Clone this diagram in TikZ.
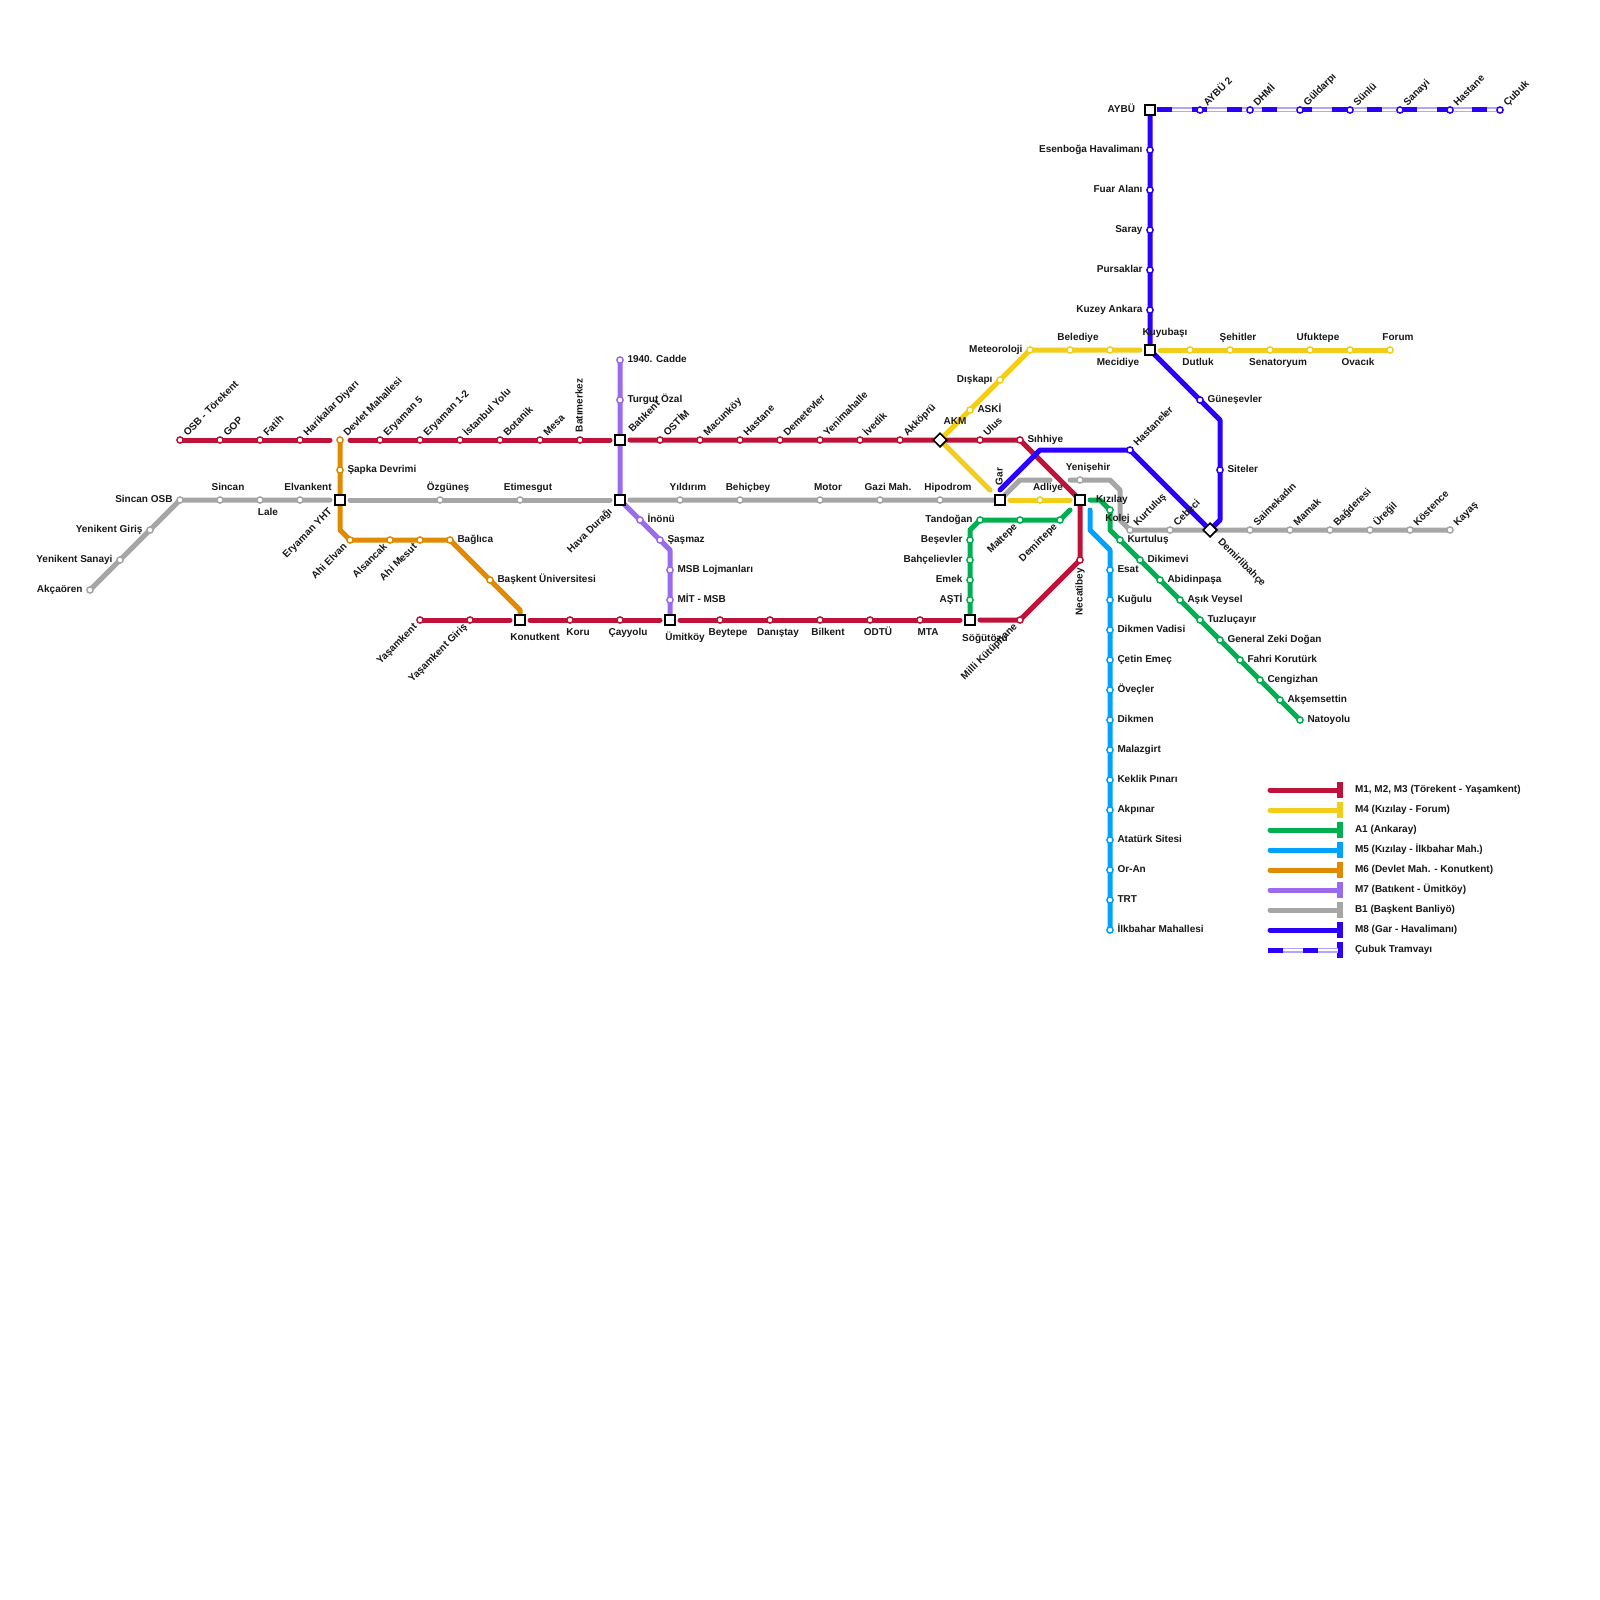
\documentclass[tikz,border=0pt]{standalone}
\usepackage{fontspec}
\setmainfont{Liberation Sans}[BoldFont={Liberation Sans Bold}]
\pgfdeclarelayer{bg}
\pgfsetlayers{bg,main}
\definecolor{cRed}{HTML}{BE1238}
\definecolor{cYel}{HTML}{F2CE1A}
\definecolor{cGrn}{HTML}{00B050}
\definecolor{cBlu}{HTML}{00A2FF}
\definecolor{cOrg}{HTML}{E08A00}
\definecolor{cPur}{HTML}{9B6BEE}
\definecolor{cGry}{HTML}{A6A6A6}
\definecolor{cInd}{HTML}{2C00FF}
\definecolor{cLav}{HTML}{B4A4FF}
\tikzset{
 lbl/.style={inner sep=0pt,outer sep=0pt,font=\fontsize{10}{11}\selectfont\bfseries,text=black!90},
 R/.style={lbl,anchor=base west,xshift=7.5pt,yshift=-2.5pt},
 L/.style={lbl,anchor=base east,xshift=-7.5pt,yshift=-2.5pt},
 A/.style={lbl,anchor=base,xshift=8pt,yshift=9.5pt},
 B/.style={lbl,anchor=base,xshift=8pt,yshift=-15.5pt},
 NE/.style={lbl,anchor=base west,xshift=7.5pt,yshift=3.5pt,rotate=45},
 SW/.style={lbl,anchor=base east,xshift=-2.5pt,yshift=-7.5pt,rotate=45},
 stnode/.style={circle,draw=#1,fill=white,line width=1.5pt,minimum size=6.2pt,inner sep=0pt,outer sep=0pt},
 sqnode/.style={rectangle,draw=black,fill=white,line width=1.8pt,minimum size=10pt,inner sep=0pt,outer sep=0pt},
 dinode/.style={rectangle,draw=black,fill=white,line width=1.7pt,minimum size=9.6pt,inner sep=0pt,outer sep=0pt,rotate=45},
 ln/.style={draw=#1,line width=5pt,line cap=round,line join=round},
 bar/.style={rectangle,fill=#1,inner sep=0pt,outer sep=0pt,minimum width=6pt,minimum height=16pt},
 tramdash/.style={draw=cInd,line width=5pt,dash pattern=on 15pt off 20pt},
 tramback/.style={draw=cLav,line width=5pt},
 tramfront/.style={draw=white,line width=2.4pt},
 leg/.style={lbl,anchor=base west}
}
\newcommand\stn[6]{\node[stnode=#1] (#2) at (#3,#4) {}; \node[#5] (#2-l) at (#3,#4) {#6};}
\newcommand\sqn[5]{\node[sqnode] (#1) at (#2,#3) {}; \node[#4] (#1-l) at (#2,#3) {#5};}
\newcommand\din[5]{\node[dinode] (#1) at (#2,#3) {}; \node[#4] (#1-l) at (#2,#3) {#5};}
\newcommand\route[3]{\draw[ln=#1] (#2.center) foreach \n in {#3} {-- (\n.center)};}
\begin{document}
\begin{tikzpicture}[x=1pt,y=-1pt]
\useasboundingbox (0,0) rectangle (1600,1600);
\begin{pgfonlayer}{bg}
\fill[white] (0,0) rectangle (1600,1600);
\end{pgfonlayer}
% interchanges
\sqn{bat}{620}{440}{lbl,anchor=base west,xshift=12.5pt,yshift=7.5pt,rotate=45}{Batıkent}
\sqn{hav}{620}{500}{lbl,anchor=base east,xshift=-7.5pt,yshift=-12.5pt,rotate=45}{Hava Durağı}
\sqn{ery}{340}{500}{lbl,anchor=base east,xshift=-7.5pt,yshift=-12.5pt,rotate=45}{Eryaman YHT}
\sqn{kon}{520}{620}{B,xshift=7pt,yshift=-5pt}{Konutkent}
\sqn{umi}{670}{620}{B,xshift=7pt,yshift=-5pt}{Ümitköy}
\sqn{sog}{970}{620}{B,xshift=7pt,yshift=-5.5pt}{Söğütözü}
\sqn{gar}{1000}{500}{lbl,anchor=base west,xshift=2.5pt,yshift=15pt,rotate=90}{Gar}
\sqn{kiz}{1080}{500}{R,xshift=8.5pt}{Kızılay}
\sqn{kuy}{1150}{350}{A,xshift=7pt,yshift=5pt}{Kuyubaşı}
\sqn{ayb}{1150}{110}{L,xshift=-7.5pt}{AYBÜ}
\din{akm}{940}{440}{A,xshift=7pt,yshift=6pt}{AKM}
\din{dem}{1210}{530}{lbl,anchor=base west,xshift=7.5pt,yshift=-12.5pt,rotate=-45}{Demirlibahçe}
% red
\stn{cRed}{osb}{180}{440}{NE}{OSB - Törekent}
\stn{cRed}{gop}{220}{440}{NE}{GOP}
\stn{cRed}{fat}{260}{440}{NE}{Fatih}
\stn{cRed}{har}{300}{440}{NE}{Harikalar Diyarı}
\stn{cRed}{er5}{380}{440}{NE}{Eryaman 5}
\stn{cRed}{er1}{420}{440}{NE}{Eryaman 1-2}
\stn{cRed}{ist}{460}{440}{NE}{İstanbul Yolu}
\stn{cRed}{bot}{500}{440}{NE}{Botanik}
\stn{cRed}{mes}{540}{440}{NE}{Mesa}
\stn{cRed}{bme}{580}{440}{lbl,anchor=base west,xshift=2.5pt,yshift=8pt,rotate=90}{Batımerkez}
\stn{cRed}{ost}{660}{440}{NE}{OSTİM}
\stn{cRed}{mac}{700}{440}{NE}{Macunköy}
\stn{cRed}{hsn}{740}{440}{NE}{Hastane}
\stn{cRed}{dmt}{780}{440}{NE}{Demetevler}
\stn{cRed}{yen}{820}{440}{NE}{Yenimahalle}
\stn{cRed}{ive}{860}{440}{NE}{İvedik}
\stn{cRed}{akk}{900}{440}{NE}{Akköprü}
\stn{cRed}{ulu}{980}{440}{NE}{Ulus}
\stn{cRed}{sih}{1020}{440}{R}{Sıhhiye}
\stn{cRed}{nec}{1080}{560}{lbl,anchor=base east,xshift=2.5pt,yshift=-8pt,rotate=90}{Necatibey}
\stn{cRed}{mil}{1020}{620}{SW}{Milli Kütüphane}
\stn{cRed}{mta}{920}{620}{B}{MTA}
\stn{cRed}{odt}{870}{620}{B}{ODTÜ}
\stn{cRed}{bil}{820}{620}{B}{Bilkent}
\stn{cRed}{dan}{770}{620}{B}{Danıştay}
\stn{cRed}{bey}{720}{620}{B}{Beytepe}
\stn{cRed}{cay}{620}{620}{B}{Çayyolu}
\stn{cRed}{kor}{570}{620}{B}{Koru}
\stn{cRed}{yag}{470}{620}{SW}{Yaşamkent Giriş}
\stn{cRed}{yas}{420}{620}{SW}{Yaşamkent}
% yellow
\stn{cYel}{met}{1030}{350}{L}{Meteoroloji}
\stn{cYel}{bel}{1070}{350}{A}{Belediye}
\stn{cYel}{mec}{1110}{350}{B}{Mecidiye}
\stn{cYel}{dis}{1000}{380}{L}{Dışkapı}
\stn{cYel}{ask}{970}{410}{R}{ASKİ}
\stn{cYel}{adl}{1040}{500}{A}{Adliye}
\stn{cYel}{dut}{1190}{350}{B}{Dutluk}
\stn{cYel}{seh}{1230}{350}{A}{Şehitler}
\stn{cYel}{sen}{1270}{350}{B}{Senatoryum}
\stn{cYel}{ufu}{1310}{350}{A}{Ufuktepe}
\stn{cYel}{ova}{1350}{350}{B}{Ovacık}
\stn{cYel}{for}{1390}{350}{A}{Forum}
% green
\stn{cGrn}{kol}{1110}{510}{B,xshift=-0.5pt,yshift=4.5pt}{Kolej}
\stn{cGrn}{kur}{1120}{540}{R}{Kurtuluş}
\stn{cGrn}{dik}{1140}{560}{R}{Dikimevi}
\stn{cGrn}{abi}{1160}{580}{R}{Abidinpaşa}
\stn{cGrn}{asi}{1180}{600}{R}{Aşık Veysel}
\stn{cGrn}{tuz}{1200}{620}{R}{Tuzluçayır}
\stn{cGrn}{gen}{1220}{640}{R}{General Zeki Doğan}
\stn{cGrn}{fah}{1240}{660}{R}{Fahri Korutürk}
\stn{cGrn}{cen}{1260}{680}{R}{Cengizhan}
\stn{cGrn}{aks}{1280}{700}{R}{Akşemsettin}
\stn{cGrn}{nat}{1300}{720}{R}{Natoyolu}
\stn{cGrn}{dtp}{1060}{520}{SW}{Demirtepe}
\stn{cGrn}{mal}{1020}{520}{SW}{Maltepe}
\stn{cGrn}{tan}{980}{520}{L}{Tandoğan}
\stn{cGrn}{bes}{970}{540}{L}{Beşevler}
\stn{cGrn}{bah}{970}{560}{L}{Bahçelievler}
\stn{cGrn}{eme}{970}{580}{L}{Emek}
\stn{cGrn}{ast}{970}{600}{L}{AŞTİ}
% M5
\stn{cBlu}{esa}{1110}{570}{R}{Esat}
\stn{cBlu}{kug}{1110}{600}{R}{Kuğulu}
\stn{cBlu}{dkv}{1110}{630}{R}{Dikmen Vadisi}
\stn{cBlu}{cet}{1110}{660}{R}{Çetin Emeç}
\stn{cBlu}{ove}{1110}{690}{R}{Öveçler}
\stn{cBlu}{dkm}{1110}{720}{R}{Dikmen}
\stn{cBlu}{mlz}{1110}{750}{R}{Malazgirt}
\stn{cBlu}{kek}{1110}{780}{R}{Keklik Pınarı}
\stn{cBlu}{akp}{1110}{810}{R}{Akpınar}
\stn{cBlu}{ata}{1110}{840}{R}{Atatürk Sitesi}
\stn{cBlu}{ora}{1110}{870}{R}{Or-An}
\stn{cBlu}{trt}{1110}{900}{R}{TRT}
\stn{cBlu}{ilk}{1110}{930}{R}{İlkbahar Mahallesi}
% M6
\stn{cOrg}{dev}{340}{440}{NE}{Devlet Mahallesi}
\stn{cOrg}{sap}{340}{470}{R}{Şapka Devrimi}
\stn{cOrg}{ahe}{350}{540}{SW}{Ahi Elvan}
\stn{cOrg}{als}{390}{540}{SW}{Alsancak}
\stn{cOrg}{ahm}{420}{540}{SW}{Ahi Mesut}
\stn{cOrg}{bag}{450}{540}{R}{Bağlıca}
\stn{cOrg}{bas}{490}{580}{R}{Başkent Üniversitesi}
% M7
\stn{cPur}{c19}{620}{360}{R}{1940. Cadde}
\stn{cPur}{tur}{620}{400}{R}{Turgut Özal}
\stn{cPur}{ino}{640}{520}{R}{İnönü}
\stn{cPur}{sas}{660}{540}{R}{Şaşmaz}
\stn{cPur}{msb}{670}{570}{R}{MSB Lojmanları}
\stn{cPur}{mit}{670}{600}{R}{MİT - MSB}
% B1
\stn{cGry}{akc}{90}{590}{L}{Akçaören}
\stn{cGry}{yks}{120}{560}{L}{Yenikent Sanayi}
\stn{cGry}{ykg}{150}{530}{L}{Yenikent Giriş}
\stn{cGry}{sio}{180}{500}{L}{Sincan OSB}
\stn{cGry}{sin}{220}{500}{A}{Sincan}
\stn{cGry}{lal}{260}{500}{B}{Lale}
\stn{cGry}{elv}{300}{500}{A}{Elvankent}
\stn{cGry}{ozg}{440}{500}{A}{Özgüneş}
\stn{cGry}{eti}{520}{500}{A}{Etimesgut}
\stn{cGry}{yil}{680}{500}{A}{Yıldırım}
\stn{cGry}{beh}{740}{500}{A}{Behiçbey}
\stn{cGry}{mot}{820}{500}{A}{Motor}
\stn{cGry}{gaz}{880}{500}{A}{Gazi Mah.}
\stn{cGry}{hip}{940}{500}{A}{Hipodrom}
\stn{cGry}{yns}{1080}{480}{A}{Yenişehir}
\stn{cGry}{kgr}{1130}{530}{NE}{Kurtuluş}
\stn{cGry}{ceb}{1170}{530}{NE}{Cebeci}
\stn{cGry}{sai}{1250}{530}{NE}{Saimekadın}
\stn{cGry}{mam}{1290}{530}{NE}{Mamak}
\stn{cGry}{bgd}{1330}{530}{NE}{Bağderesi}
\stn{cGry}{ure}{1370}{530}{NE}{Üreğil}
\stn{cGry}{kos}{1410}{530}{NE}{Köstence}
\stn{cGry}{kay}{1450}{530}{NE}{Kayaş}
% M8
\stn{cInd}{gun}{1200}{400}{R}{Güneşevler}
\stn{cInd}{sit}{1220}{470}{R}{Siteler}
\stn{cInd}{hst}{1130}{450}{NE}{Hastaneler}
\stn{cInd}{kuz}{1150}{310}{L}{Kuzey Ankara}
\stn{cInd}{pur}{1150}{270}{L}{Pursaklar}
\stn{cInd}{sar}{1150}{230}{L}{Saray}
\stn{cInd}{fua}{1150}{190}{L}{Fuar Alanı}
\stn{cInd}{ese}{1150}{150}{L}{Esenboğa Havalimanı}
% tram
\stn{cInd}{ay2}{1200}{110}{NE}{AYBÜ 2}
\stn{cInd}{dhm}{1250}{110}{NE}{DHMİ}
\stn{cInd}{gul}{1300}{110}{NE}{Güldarpı}
\stn{cInd}{sun}{1350}{110}{NE}{Sünlü}
\stn{cInd}{san}{1400}{110}{NE}{Sanayi}
\stn{cInd}{hsc}{1450}{110}{NE}{Hastane}
\stn{cInd}{cub}{1500}{110}{NE}{Çubuk}
% free ends and bends
\foreach \n/\x/\y in {r1/330/440,r2/350/440,r3/610/440,r4/630/440,r5/510/620,r6/530/620,r7/660/620,r8/680/620,r9/960/620,r10/980/620,
 y1/1140/350,y2/1160/350,y3/990/490,y4/1010/500,y5/1070/500,
 g1/1090/500,g2/1100/500,g3/1110/530,g4/1070/510,g5/970/530,
 b1/1090/510,b2/1090/530,b3/1110/550,
 o1/340/530,o2/520/610,
 p1/670/550,
 a1/330/500,a2/350/500,a3/610/500,a4/630/500,a6/1020/480,a7/1050/480,a8/1070/480,a9/1110/480,a10/1120/490,a11/1120/520,
 i1/1000/490,i2/1040/450,i3/1220/520,i4/1220/420,
 t1/1157/110}
 {\coordinate (\n) at (\x,\y);}
\begin{pgfonlayer}{bg}
\route{cRed}{osb}{gop,fat,har,r1}
\route{cRed}{r2}{er5,er1,ist,bot,mes,bme,r3}
\route{cRed}{r4}{ost,mac,hsn,dmt,yen,ive,akk,akm,ulu,sih,kiz,nec,mil,r10}
\route{cRed}{yas}{yag,r5}
\route{cRed}{r6}{kor,cay,r7}
\route{cRed}{r8}{bey,dan,bil,odt,mta,r9}
\route{cYel}{y1}{mec,bel,met,dis,ask,akm,y3}
\route{cYel}{y2}{dut,seh,sen,ufu,ova,for}
\route{cYel}{y4}{adl,y5}
\route{cGrn}{g1}{g2,kol,g3,kur,dik,abi,asi,tuz,gen,fah,cen,aks,nat}
\route{cGrn}{g4}{dtp,mal,tan,g5,bes,bah,eme,ast,sog}
\route{cBlu}{b1}{b2,b3,esa,kug,dkv,cet,ove,dkm,mlz,kek,akp,ata,ora,trt,ilk}
\route{cOrg}{dev}{sap,ery,o1,ahe,als,ahm,bag,bas,o2,kon}
\route{cPur}{c19}{tur,bat,hav,ino,sas,p1,msb,mit,umi}
\route{cGry}{akc}{yks,ykg,sio,sin,lal,elv,a1}
\route{cGry}{a2}{ozg,eti,a3}
\route{cGry}{a4}{yil,beh,mot,gaz,hip,gar,a6,a7}
\route{cGry}{a8}{yns,a9,a10,a11,kgr,ceb,dem,sai,mam,bgd,ure,kos,kay}
\route{cInd}{i1}{i2,hst,dem,i3,sit,i4,gun,kuy,kuz,pur,sar,fua,ese,ayb}
\draw[tramback] (t1.center) -- (ay2.center) -- (dhm.center) -- (gul.center) -- (sun.center) -- (san.center) -- (hsc.center) -- (cub.center);
\draw[tramfront] (t1.center) -- (cub.center);
\draw[tramdash] (t1.center) -- (cub.center);
\end{pgfonlayer}
% legend
\foreach \n/\c/\y/\t in {l1/cRed/790/{M1, M2, M3 (Törekent - Yaşamkent)},l2/cYel/810/{M4 (Kızılay - Forum)},l3/cGrn/830/{A1 (Ankaray)},l4/cBlu/850/{M5 (Kızılay - İlkbahar Mah.)},l5/cOrg/870/{M6 (Devlet Mah. - Konutkent)},l6/cPur/890/{M7 (Batıkent - Ümitköy)},l7/cGry/910/{B1 (Başkent Banliyö)},l8/cInd/930/{M8 (Gar - Havalimanı)}}
{
 \coordinate (\n-s) at (1270,\y);
 \node[bar=\c] (\n-b) at (1340,\y) {};
 \draw[ln=\c] (\n-s) -- (\n-b.center);
 \node[leg] (\n-t) at (1355,\y+2.5) {\t};
}
\coordinate (l9-s) at (1267.5,950);
\node[bar=cInd] (l9-b) at (1340,950) {};
\draw[tramback] (l9-s) -- (l9-b.center);
\draw[tramfront] (l9-s) -- (l9-b.center);
\draw[tramdash] (l9-s) -- (l9-b.center);
\node[leg] (l9-t) at (1355,952.5) {Çubuk Tramvayı};
\end{tikzpicture}
\end{document}
